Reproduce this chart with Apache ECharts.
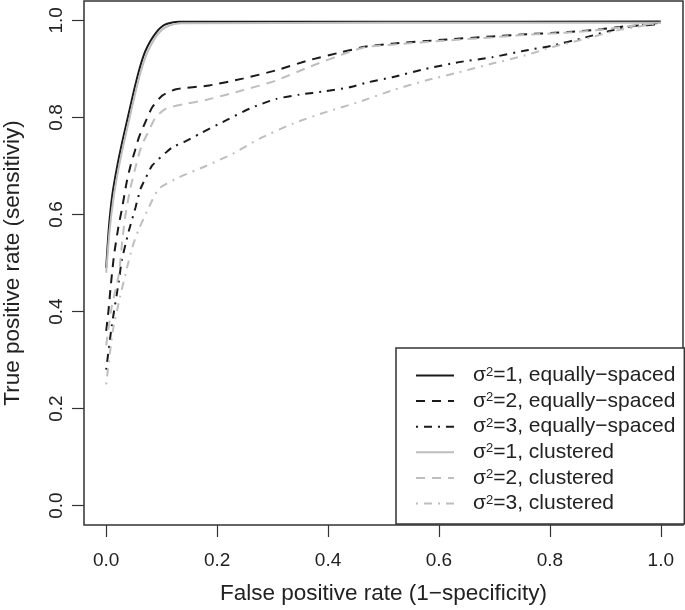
<!DOCTYPE html>
<html>
<head>
<meta charset="utf-8">
<script src="https://cdn.jsdelivr.net/npm/echarts@6/dist/echarts.min.js"></script>
<style>
  html, body { margin: 0; padding: 0; background: #fff; }
  #chart { width: 685px; height: 610px; }
</style>
</head>
<body>
<div id="chart"></div>
<script>
// ROC curves, [false positive rate, true positive rate]
const eq1 = [[0, 0.49], [0.005, 0.575], [0.011, 0.64], [0.02, 0.70], [0.03, 0.755], [0.04, 0.805], [0.05, 0.855], [0.06, 0.90], [0.07, 0.935], [0.08, 0.958], [0.09, 0.975], [0.1, 0.987], [0.11, 0.993], [0.13, 0.997], [0.5, 0.997], [1, 0.998]];
const eq2 = [[0, 0.36], [0.004, 0.40], [0.008, 0.45], [0.014, 0.515], [0.022, 0.574], [0.029, 0.615], [0.037, 0.667], [0.044, 0.701], [0.052, 0.732], [0.059, 0.759], [0.072, 0.794], [0.083, 0.821], [0.101, 0.845], [0.126, 0.858], [0.186, 0.866], [0.246, 0.880], [0.306, 0.897], [0.366, 0.918], [0.426, 0.935], [0.468, 0.946], [0.516, 0.952], [0.606, 0.960], [0.696, 0.967], [0.75, 0.971], [0.834, 0.976], [0.894, 0.982], [0.936, 0.988], [0.972, 0.990], [1, 0.993]];
const eq3 = [[0, 0.28], [0.01, 0.37], [0.023, 0.464], [0.028, 0.505], [0.035, 0.539], [0.041, 0.567], [0.047, 0.591], [0.053, 0.615], [0.062, 0.653], [0.072, 0.677], [0.083, 0.701], [0.108, 0.728], [0.12, 0.739], [0.14, 0.749], [0.168, 0.766], [0.216, 0.794], [0.258, 0.818], [0.306, 0.838], [0.348, 0.847], [0.396, 0.854], [0.438, 0.862], [0.474, 0.873], [0.516, 0.883], [0.576, 0.900], [0.636, 0.914], [0.696, 0.924], [0.756, 0.938], [0.804, 0.948], [0.864, 0.965], [0.924, 0.983], [0.972, 0.992], [1, 0.995]];
const cl1 = [[0, 0.48], [0.006, 0.565], [0.013, 0.632], [0.022, 0.693], [0.032, 0.748], [0.042, 0.798], [0.052, 0.848], [0.062, 0.893], [0.072, 0.928], [0.082, 0.952], [0.092, 0.97], [0.102, 0.982], [0.113, 0.989], [0.135, 0.994], [0.5, 0.995], [1, 0.995]];
const cl2 = [[0, 0.33], [0.01, 0.41], [0.023, 0.478], [0.029, 0.546], [0.035, 0.601], [0.044, 0.656], [0.056, 0.711], [0.064, 0.742], [0.077, 0.773], [0.089, 0.80], [0.108, 0.818], [0.143, 0.828], [0.18, 0.836], [0.246, 0.856], [0.306, 0.876], [0.366, 0.904], [0.438, 0.935], [0.468, 0.945], [0.516, 0.950], [0.606, 0.958], [0.696, 0.965], [0.75, 0.970], [0.834, 0.975], [0.894, 0.981], [0.936, 0.987], [1, 0.995]];
const cl3 = [[0, 0.25], [0.012, 0.36], [0.025, 0.43], [0.035, 0.478], [0.047, 0.532], [0.059, 0.570], [0.077, 0.615], [0.095, 0.653], [0.132, 0.677], [0.18, 0.70], [0.228, 0.725], [0.276, 0.756], [0.336, 0.787], [0.396, 0.811], [0.456, 0.832], [0.516, 0.856], [0.576, 0.876], [0.636, 0.893], [0.696, 0.911], [0.756, 0.928], [0.804, 0.945], [0.864, 0.962], [0.924, 0.980], [1, 0.995]];

const seriesNames = ["σ{s|2}=1, equally−spaced", "σ{s|2}=2, equally−spaced", "σ{s|2}=3, equally−spaced",
  "σ{s|2}=1, clustered", "σ{s|2}=2, clustered", "σ{s|2}=3, clustered"];
const tickValues = [0, 0.2, 0.4, 0.6, 0.8, 1.0];

const FONT = "Liberation Sans";
const BLACK = "#1a1a1a";
const GRAY = "#bebebe";
const DASHED = [9, 7];
const DOTDASH = [2, 6, 8, 6];

const chart = echarts.init(document.getElementById("chart"));

const makeSeries = (name, data, color, dash) => ({
  name: name,
  type: "line",
  data: data,
  showSymbol: false,
  symbol: "none",
  smooth: 0.2,
  lineStyle: { color: color, width: 2, type: dash },
  itemStyle: { color: color },
  emphasis: { disabled: true }
});

const axisCommon = {
  type: "value",
  min: -0.04,
  max: 1.04,
  nameLocation: "middle",
  nameTextStyle: { fontFamily: FONT, fontSize: 22.5, color: "#222" },
  axisLine: { show: false, onZero: false },
  splitLine: { show: false },
  axisTick: {
    customValues: tickValues,
    length: 12,
    lineStyle: { color: "#333", width: 1.2 }
  }
};

chart.setOption({
  animation: false,
  backgroundColor: "#fff",
  grid: {
    left: 84,
    top: 1,
    width: 599,
    height: 524,
    containLabel: false,
    outerBoundsMode: "none",
    show: true,
    borderColor: "#333",
    borderWidth: 1.5,
    backgroundColor: "transparent"
  },
  xAxis: Object.assign({}, axisCommon, {
    name: "False positive rate (1−specificity)",
    nameGap: 57,
    axisLabel: {
      customValues: tickValues,
      margin: 26,
      fontFamily: FONT,
      fontSize: 19,
      color: "#222",
      formatter: (v) => v.toFixed(1)
    }
  }),
  yAxis: Object.assign({}, axisCommon, {
    name: "True positive rate (sensitiviy)",
    nameGap: 60,
    axisLabel: {
      customValues: tickValues,
      rotate: 90,
      margin: 18,
      fontFamily: FONT,
      fontSize: 19,
      color: "#222",
      formatter: (v) => v.toFixed(1)
    }
  }),
  legend: {
    orient: "vertical",
    left: 396,
    top: 348,
    padding: [17, 9, 10, 19],
    itemWidth: 38,
    itemHeight: 14,
    itemGap: 4.6,
    borderColor: "#333",
    borderWidth: 1.5,
    backgroundColor: "#fff",
    selectedMode: false,
    itemStyle: { color: "transparent", borderWidth: 0, opacity: 0 },
    formatter: (name) => "{g|}" + name,
    textStyle: {
      fontFamily: FONT,
      fontSize: 21,
      color: "#222",
      lineHeight: 20,
      rich: {
        g: { width: 14, lineHeight: 20 },
        s: { fontSize: 13, lineHeight: 13, verticalAlign: "top", fontFamily: FONT, color: "#222" }
      }
    }
  },
  series: [
    makeSeries(seriesNames[0], eq1, BLACK, "solid"),
    makeSeries(seriesNames[1], eq2, BLACK, DASHED),
    makeSeries(seriesNames[2], eq3, BLACK, DOTDASH),
    makeSeries(seriesNames[3], cl1, GRAY, "solid"),
    makeSeries(seriesNames[4], cl2, GRAY, DASHED),
    makeSeries(seriesNames[5], cl3, GRAY, DOTDASH)
  ]
});
</script>
</body>
</html>
